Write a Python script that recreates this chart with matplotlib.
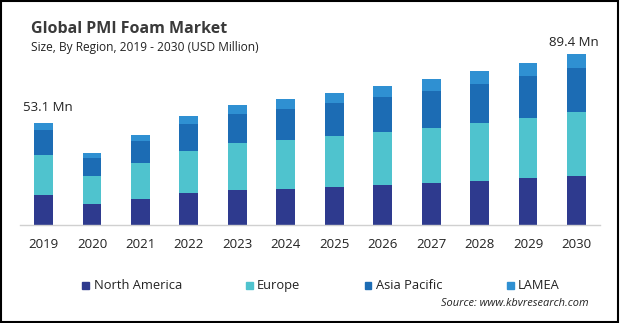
import matplotlib.pyplot as plt
import numpy as np
from matplotlib.patches import Rectangle

years = ["2019", "2020", "2021", "2022", "2023", "2024",
         "2025", "2026", "2027", "2028", "2029", "2030"]
north_america = [15.6, 11.0, 13.6, 16.7, 18.3, 18.8, 19.8, 20.9, 21.9, 23.0, 24.5, 25.6]
europe = [20.8, 14.6, 18.8, 21.9, 24.5, 25.6, 26.6, 27.7, 28.7, 30.3, 31.3, 33.4]
asia_pacific = [13.1, 9.4, 11.5, 14.1, 15.1, 16.2, 17.2, 18.3, 19.3, 20.4, 21.9, 23.0]
lamea = [3.6, 2.6, 3.1, 4.2, 4.7, 5.2, 5.2, 5.7, 6.3, 6.8, 6.8, 7.4]

regions = ["North America", "Europe", "Asia Pacific", "LAMEA"]
colors = ["#2e3a8e", "#4fc3ce", "#1c6cb4", "#2f90d2"]
series = [north_america, europe, asia_pacific, lamea]

plt.rcParams["font.family"] = ["Open Sans", "DejaVu Sans"]

W, H = 620, 323
fig = plt.figure(figsize=(W / 100, H / 100), dpi=100)
ax = fig.add_axes([20 / W, 98 / H, 580 / W, 185 / H])

x = np.arange(len(years))
bottom = np.zeros(len(years))
for vals, c in zip(series, colors):
    ax.bar(x, vals, width=0.39, bottom=bottom, color=c)
    bottom += np.array(vals)

ax.set_xlim(-0.485, len(years) - 1 + 0.485)
ax.set_ylim(0, 96.7)
for s in ["top", "right", "left"]:
    ax.spines[s].set_visible(False)
ax.spines["bottom"].set_color("#d0d0d0")
ax.spines["bottom"].set_linewidth(1)
ax.set_yticks([])
ax.set_xticks(x)
ax.set_xticklabels(years, fontsize=9.5, color="#222222")
ax.tick_params(axis="x", length=0, pad=9)

# value labels on first and last bar
ax.annotate("53.1 Mn", (0, bottom[0]), xytext=(3.5, 11.5), textcoords="offset points",
            ha="center", va="center", fontsize=9.5, color="#222222")
ax.annotate("89.4 Mn", (11, bottom[-1]), xytext=(-2, 8), textcoords="offset points",
            ha="center", va="center", fontsize=9.5, color="#222222")

fig.text(31 / W, 1 - 29 / H, "Global PMI Foam Market", fontsize=11.5, fontweight="bold",
         color="#3a3a3a", va="center")
fig.text(31 / W, 1 - 47 / H, "Size, By Region, 2019 - 2030 (USD Million)", fontsize=8.6,
         color="#222222", va="center")

# legend
leg_x = [85.5, 249, 368, 510]
for lx, name, c in zip(leg_x, regions, colors):
    fig.patches.append(Rectangle(((lx - 3.5) / W, 1 - 288.5 / H), 7 / W, 7 / H,
                                 transform=fig.transFigure, color=c))
    fig.text((lx + 8) / W, 1 - 285.5 / H, name, fontsize=9.3, color="#222222", va="center")

fig.text(589 / W, 1 - 303 / H, "Source: www.kbvresearch.com", fontsize=7.9,
         style="italic", color="#222222", ha="right", va="center")

# outer frame
fig.patches.append(Rectangle((0.5 / W, 1.5 / H), (W - 2.5) / W, (H - 2.5) / H,
                             transform=fig.transFigure, fill=False,
                             edgecolor="black", linewidth=1.5))

fig.savefig("out.png", dpi=100)
